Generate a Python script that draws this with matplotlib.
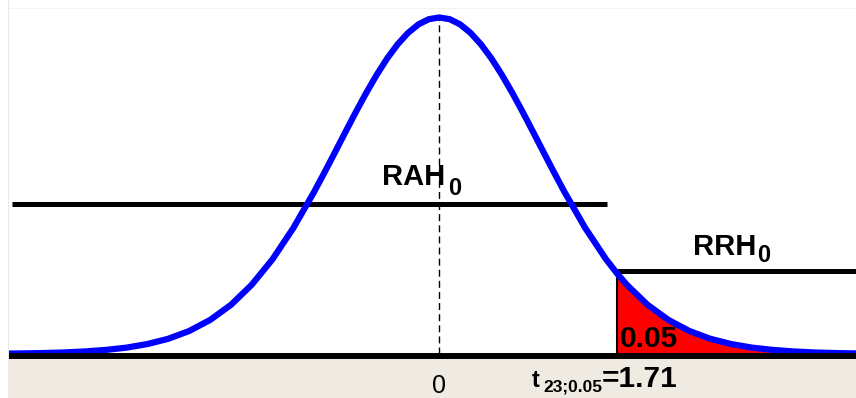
import matplotlib.pyplot as plt
from matplotlib.patches import Rectangle

plt.rcParams['font.family'] = ['Liberation Sans', 'DejaVu Sans']

# t-curve (23 df)
t_x = [-4.2, -4.0, -3.8, -3.6, -3.4, -3.2, -3.0, -2.8, -2.6, -2.4, -2.2, -2.0,
       -1.8, -1.6, -1.4, -1.2, -1.1, -1.0, -0.9, -0.8, -0.7, -0.6, -0.5, -0.4,
       -0.3, -0.2, -0.1, 0.0, 0.1, 0.2, 0.3, 0.4, 0.5, 0.6, 0.7, 0.8, 0.9, 1.0,
       1.1, 1.2, 1.4, 1.6, 1.71, 1.8, 2.0, 2.2, 2.4, 2.6, 2.8, 3.0, 3.2, 3.4,
       3.6, 3.8, 4.0]
t_y = [0.0004, 0.0007, 0.0011, 0.0018, 0.0030, 0.0048, 0.0075, 0.0117, 0.0179,
       0.0270, 0.0399, 0.0576, 0.0812, 0.1112, 0.1479, 0.1904, 0.2133, 0.2368,
       0.2605, 0.2839, 0.3064, 0.3275, 0.3466, 0.3631, 0.3765, 0.3865, 0.3926,
       0.3946, 0.3926, 0.3865, 0.3765, 0.3631, 0.3466, 0.3275, 0.3064, 0.2839,
       0.2605, 0.2368, 0.2133, 0.1904, 0.1479, 0.1112, 0.0939, 0.0812, 0.0576,
       0.0399, 0.0270, 0.0179, 0.0117, 0.0075, 0.0048, 0.0030, 0.0018, 0.0011,
       0.0007]

t_crit = 1.71
alpha_label = "0.05"
rah_x = [-4.1, 1.61]
rah_y = 0.1758
rrh_x = [1.71, 4.0]
rrh_y = 0.0973

fig = plt.figure(figsize=(8.56, 3.98), dpi=100, facecolor='white')

# beige band at the bottom + thin frame lines (behind the axes)
fig.patches.append(Rectangle((8 / 856, 0), 848 / 856, 39 / 398, transform=fig.transFigure,
                             facecolor='#efebe2', edgecolor='none', zorder=-1))
fig.patches.append(Rectangle((8 / 856, 0), 1.2 / 856, 1, transform=fig.transFigure,
                             facecolor='#ece8de', edgecolor='none', zorder=-1))
fig.patches.append(Rectangle((8 / 856, 389.5 / 398), 848 / 856, 1 / 398, transform=fig.transFigure,
                             facecolor='#f3f3f3', edgecolor='none', zorder=-1))

ax = fig.add_axes([9 / 856, 39 / 398, 847 / 856, 351 / 398])
ax.set_xlim(-4.13, 4.0)
ax.set_ylim(-0.00586, 0.4057)
ax.axis('off')

# rejection tail
tail_x = [x for x in t_x if x >= t_crit]
tail_y = [y for x, y in zip(t_x, t_y) if x >= t_crit]
ax.fill_between(tail_x, 0, tail_y, color='#ff0000', lw=0, zorder=2)

ax.plot([0, 0], [0, max(t_y)], color='black', lw=1, linestyle=(0, (5, 3)), zorder=3)
ax.plot(rah_x, [rah_y, rah_y], color='black', lw=3.6, solid_capstyle='butt', zorder=3)
ax.plot(rrh_x, [rrh_y, rrh_y], color='black', lw=3.6, solid_capstyle='butt', zorder=3)
ax.plot([t_crit, t_crit], [0, rrh_y], color='black', lw=1.5, zorder=3)

ax.plot(t_x, t_y, color='#0000ff', lw=4.5, solid_joinstyle='round', zorder=4)

ax.axhline(-0.0023, color='black', lw=4.3, zorder=5)

bold = dict(fontweight='bold', color='black', ha='left', va='baseline')
ax.text(-0.55, 0.198, "RAH", fontsize=21, **bold)
ax.text(0.083, 0.186, "0", fontsize=17, **bold)
ax.text(2.44, 0.116, "RRH", fontsize=21, **bold)
ax.text(3.049, 0.108, "0", fontsize=17, **bold)
ax.text(1.735, 0.0082, alpha_label, fontsize=21.5, zorder=6, **bold)

tr = ax.get_xaxis_transform()
ax.text(0, -0.096, "0", fontsize=18, color='black', ha='center', va='baseline',
        transform=tr, clip_on=False)
ax.text(0.89, -0.0798, "t", fontsize=17, transform=tr, clip_on=False, **bold)
ax.text(0.995, -0.0912, "23;0.05", fontsize=12.5, transform=tr, clip_on=False, **bold)
ax.text(1.561, -0.0798, "=" + str(t_crit), fontsize=21.5, transform=tr, clip_on=False, **bold)

fig.savefig('out.png', dpi=100, facecolor=fig.get_facecolor())
